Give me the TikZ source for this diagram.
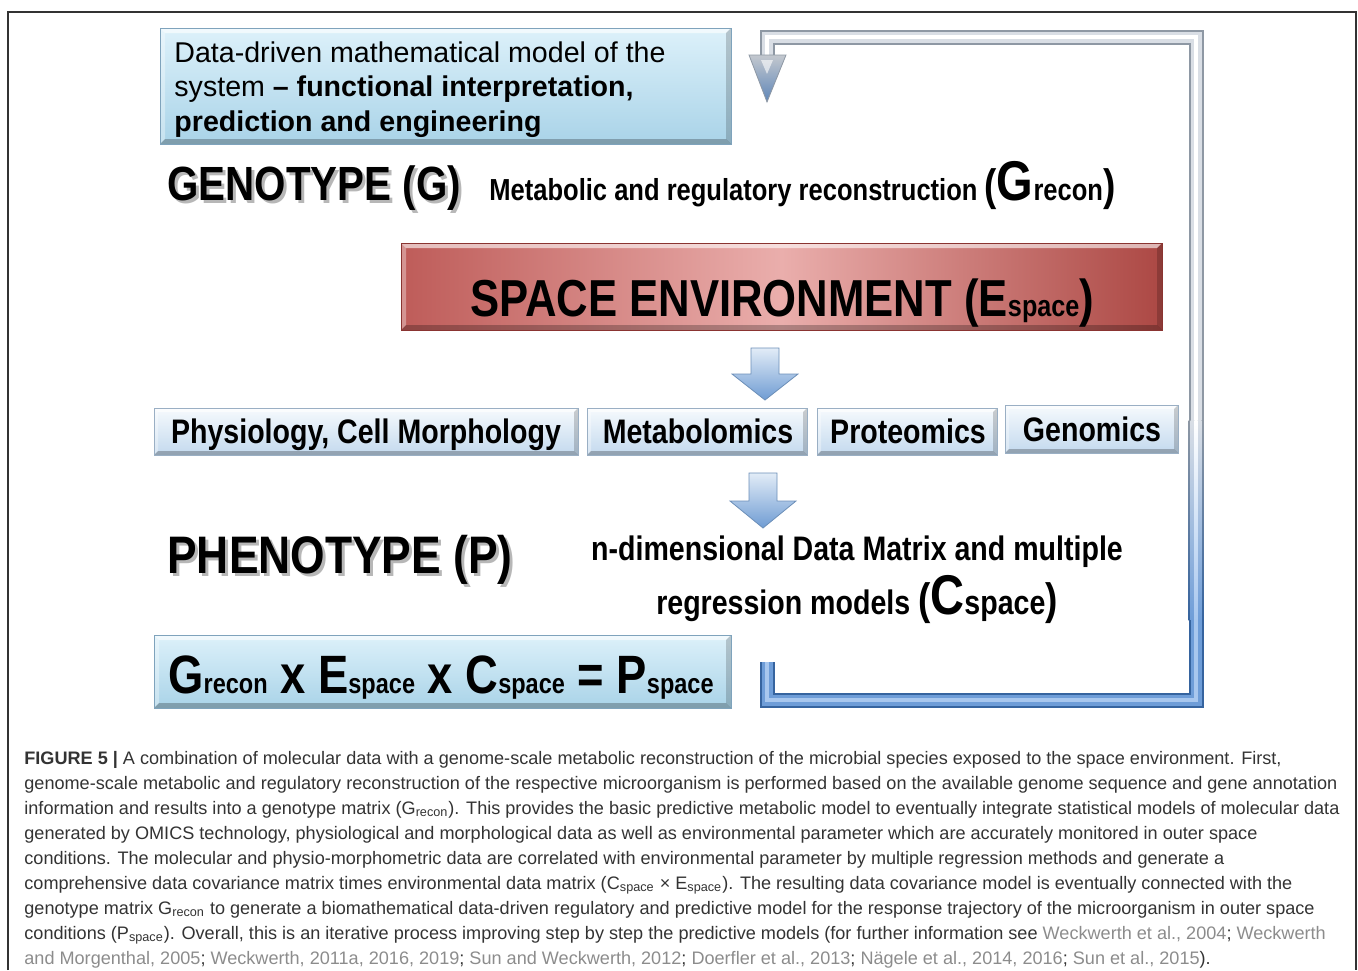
\documentclass[tikz,border=0pt]{standalone}
\usepackage{fontspec}
\setmainfont{Liberation Sans}
\newfontfamily\cb[FakeStretch=0.84]{Liberation Sans}
\usetikzlibrary{calc}
\definecolor{capgray}{HTML}{333333}
\definecolor{citegray}{HTML}{8C8C8C}
\definecolor{bltop}{HTML}{DDF1FA}
\definecolor{blbot}{HTML}{A9D3E8}
\definecolor{bledge}{HTML}{7FA3BC}
\definecolor{sbtop}{HTML}{F6FAFD}
\definecolor{sbbot}{HTML}{C3D9EE}
\definecolor{sbedge}{HTML}{9AAFC4}
\definecolor{redL}{HTML}{BE5C59}
\definecolor{redM}{HTML}{EAAEAC}
\definecolor{redR}{HTML}{AC4844}
\definecolor{rededge}{HTML}{8A3431}
\definecolor{arrtop}{HTML}{E2ECF7}
\definecolor{arrbot}{HTML}{6F9CD3}
\definecolor{arredge}{HTML}{6C8FB8}
\definecolor{pipegray}{HTML}{D9DEE5}
\definecolor{pipegrayedge}{HTML}{8E98A4}
\definecolor{pipeblue}{HTML}{6E9DD8}
\definecolor{pipeblueedge}{HTML}{36649F}
\definecolor{pipebluehi}{HTML}{A8C7EE}
\tikzset{
  bevel/.style={path picture={
    \fill[white,opacity=.6] (path picture bounding box.north west) -- (path picture bounding box.north east)
      -- ([shift={(-#1,-#1)}]path picture bounding box.north east) -- ([shift={(#1,-#1)}]path picture bounding box.north west) -- cycle;
    \fill[white,opacity=.35] (path picture bounding box.north west) -- ([shift={(#1,-#1)}]path picture bounding box.north west)
      -- ([shift={(#1,#1)}]path picture bounding box.south west) -- (path picture bounding box.south west) -- cycle;
    \fill[black,opacity=.18] (path picture bounding box.north east) -- ([shift={(-#1,-#1)}]path picture bounding box.north east)
      -- ([shift={(-#1,#1)}]path picture bounding box.south east) -- (path picture bounding box.south east) -- cycle;
    \fill[black,opacity=.25] (path picture bounding box.south west) -- ([shift={(#1,#1)}]path picture bounding box.south west)
      -- ([shift={(-#1,#1)}]path picture bounding box.south east) -- (path picture bounding box.south east) -- cycle;
  }},
  bluebox/.style={draw=bledge, line width=0.5pt, top color=bltop, bottom color=blbot, inner sep=0pt, bevel=2.5pt},
  smallbox/.style={draw=sbedge, line width=0.5pt, top color=sbtop, bottom color=sbbot, inner sep=0pt, minimum height=23.5pt, bevel=2pt},
  redbox/.style={draw=rededge, line width=0.5pt, left color=redL, right color=redR, middle color=redM, inner sep=0pt, bevel=2.5pt},
  lbl/.style={anchor=base west, inner sep=0pt},
  boxlbl/.style={anchor=base, inner sep=0pt, font=\cb\bfseries\fontsize{17}{17}\selectfont},
  capline/.style={anchor=base west, inner sep=0pt, text=capgray, font=\fontsize{9.05}{11}\selectfont},
  blockarrow/.style={top color=arrtop, bottom color=arrbot, draw=arredge, line width=0.4pt},
}
\newcommand{\citeref}[1]{\textcolor{citegray}{#1}}
\begin{document}
\begin{tikzpicture}[x=0.5pt,y=-0.5pt]
\useasboundingbox (0,0) rectangle (1358,970);
% frame
\draw[black!80, line width=0.8pt] (8,970) -- (8,12) -- (1356,12) -- (1356,970);

% top box
\node[bluebox, minimum width=285.5pt, minimum height=58pt] (model) at (445.5,86) {};
\node[lbl, font=\fontsize{14.3}{14.3}\selectfont] (m1) at (174,62) {Data-driven mathematical model of the};
\node[lbl, font=\fontsize{14.3}{14.3}\selectfont] (m2) at (174,96) {system \textbf{– functional interpretation,}};
\node[lbl, font=\fontsize{14.3}{14.3}\selectfont\bfseries] (m3) at (174,131) {prediction and engineering};

% feedback pipe
\coordinate (fbA) at (767,662);
\coordinate (fbB) at (767,700);
\coordinate (fbC) at (1196,700);
\coordinate (fbD) at (1196,37);
\coordinate (fbE) at (767,37);
\coordinate (fbF) at (767,60);
\draw[pipegrayedge, line width=7.5pt, line join=miter] (fbA) -- (fbB) -- (fbC) -- (fbD) -- (fbE) -- (fbF);
\draw[pipegray, line width=5.5pt, line join=miter] (fbA) -- (fbB) -- (fbC) -- (fbD) -- (fbE) -- (fbF);
\draw[white, line width=1.6pt, line join=miter] (fbC) -- (fbD) -- (fbE) -- (fbF);
\shade[top color=pipegrayedge, bottom color=pipeblueedge] (1188.5,420) rectangle (1203.5,620);
\shade[top color=pipegray, bottom color=pipeblue] (1190.5,420) rectangle (1201.5,620);
\shade[top color=white, bottom color=pipebluehi] (1194.4,420) rectangle (1197.6,620);
\draw[pipeblueedge, line width=7.5pt, line join=miter] (fbA) -- (fbB) -- (fbC) -- (1196,620);
\draw[pipeblue, line width=5.5pt, line join=miter] (fbA) -- (fbB) -- (fbC) -- (1196,620);
\draw[pipebluehi, line width=1.6pt, line join=miter] (fbA) -- (fbB) -- (fbC) -- (1196,620);
\shade[top color=pipegray!90!black, bottom color=pipeblue!85!black, draw=pipegrayedge, line width=0.4pt]
  ($(fbF)+(-18,-5)$) -- ($(fbF)+(19,-5)$) -- ($(fbF)+(0,42)$) -- cycle;
\fill[white, opacity=.6] ($(fbF)+(-6,0)$) -- ($(fbF)+(6,0)$) -- ($(fbF)+(0,14)$) -- cycle;

% genotype
\node[lbl, text=black!40, opacity=.7, font=\cb\bfseries\fontsize{24}{24}\selectfont] (genoS) at (170,203) {GENOTYPE (G)};
\node[lbl, font=\cb\bfseries\fontsize{24}{24}\selectfont] (geno) at (167,200) {GENOTYPE (G)};
\node[lbl, font=\cb\bfseries\fontsize{15.2}{15}\selectfont] (grecon) at (489,200)
  {Metabolic and regulatory reconstruction {\fontsize{22}{22}\selectfont(}{\fontsize{28}{28}\selectfont G}recon{\fontsize{22}{22}\selectfont)}};

% space environment
\node[redbox, minimum width=380.5pt, minimum height=43.5pt] (space) at (781.5,286.5) {};
\node[anchor=base, inner sep=0pt, font=\cb\bfseries\fontsize{26}{26}\selectfont] (spacetext) at (782,316)
  {SPACE ENVIRONMENT (E{\fontsize{15}{15}\selectfont space})};

% arrow 1
\shade[blockarrow] (751,348) -- (779,348) -- (779,374) -- (798,374) -- (765,400) -- (732,374) -- (751,374) -- cycle;

% omics boxes
\node[smallbox, minimum width=212pt] (phys) at (366,431.5) {};
\node[boxlbl] at (366,443) {Physiology, Cell Morphology};
\node[smallbox, minimum width=110pt] (metab) at (697,431.5) {};
\node[boxlbl] at (698,443) {Metabolomics};
\node[smallbox, minimum width=90pt] (prot) at (907,431.5) {};
\node[boxlbl] at (908,443) {Proteomics};
\node[smallbox, minimum width=86.5pt, minimum height=24pt] (genom) at (1091.5,429) {};
\node[boxlbl] at (1092,441) {Genomics};

% arrow 2
\shade[blockarrow] (749,473) -- (777,473) -- (777,501) -- (796,501) -- (763,528) -- (730,501) -- (749,501) -- cycle;

% phenotype
\node[lbl, text=black!40, opacity=.7, font=\cb\bfseries\fontsize{26.4}{26.4}\selectfont] (phenoS) at (170,576) {PHENOTYPE (P)};
\node[lbl, font=\cb\bfseries\fontsize{26.4}{26.4}\selectfont] (pheno) at (167,573) {PHENOTYPE (P)};
\node[anchor=base, inner sep=0pt, font=\cb\bfseries\fontsize{17}{17}\selectfont] (nd1) at (857,560) {n-dimensional Data Matrix and multiple};
\node[anchor=base, inner sep=0pt, font=\cb\bfseries\fontsize{17}{17}\selectfont] (nd2) at (857,614)
  {regression models {\fontsize{22}{22}\selectfont(}{\fontsize{28}{28}\selectfont C}space{\fontsize{22}{22}\selectfont)}};

% equation box
\node[bluebox, minimum width=288.5pt, minimum height=36.5pt] (eq) at (442.5,671.5) {};
\node[lbl, font=\cb\bfseries\fontsize{27}{27}\selectfont] (eqtext) at (168,693)
  {G{\fontsize{14}{14}\selectfont recon} x E{\fontsize{14}{14}\selectfont space} x C{\fontsize{14}{14}\selectfont space} = P{\fontsize{14}{14}\selectfont space}};

% caption
\node[capline] (c1) at (24,764) {\textbf{FIGURE 5 |} A combination of molecular data with a genome-scale metabolic reconstruction of the microbial species exposed to the space environment. First,};
\node[capline] (c2) at (24,789) {genome-scale metabolic and regulatory reconstruction of the respective microorganism is performed based on the available genome sequence and gene annotation};
\node[capline] (c3) at (24,814) {information and results into a genotype matrix (G\textsubscript{recon}). This provides the basic predictive metabolic model to eventually integrate statistical models of molecular data};
\node[capline] (c4) at (24,839) {generated by OMICS technology, physiological and morphological data as well as environmental parameter which are accurately monitored in outer space};
\node[capline] (c5) at (24,864) {conditions. The molecular and physio-morphometric data are correlated with environmental parameter by multiple regression methods and generate a};
\node[capline] (c6) at (24,889.5) {comprehensive data covariance matrix times environmental data matrix (C\textsubscript{space} × E\textsubscript{space}). The resulting data covariance model is eventually connected with the};
\node[capline] (c7) at (24,914.5) {genotype matrix G\textsubscript{recon} to generate a biomathematical data-driven regulatory and predictive model for the response trajectory of the microorganism in outer space};
\node[capline] (c8) at (24,939.5) {conditions (P\textsubscript{space}). Overall, this is an iterative process improving step by step the predictive models (for further information see \citeref{Weckwerth et al., 2004}; \citeref{Weckwerth}};
\node[capline] (c9) at (24,964.5) {\citeref{and Morgenthal, 2005}; \citeref{Weckwerth, 2011a, 2016, 2019}; \citeref{Sun and Weckwerth, 2012}; \citeref{Doerfler et al., 2013}; \citeref{Nägele et al., 2014, 2016}; \citeref{Sun et al., 2015}).};
\end{tikzpicture}
\end{document}
